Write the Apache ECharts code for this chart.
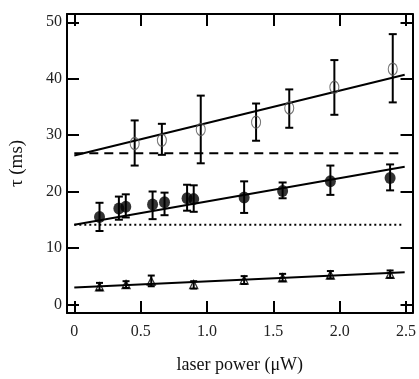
<!DOCTYPE html>
<html>
<head>
<meta charset="utf-8">
<script src="https://cdn.jsdelivr.net/npm/echarts@6/dist/echarts.min.js"></script>
<style>html,body{margin:0;padding:0;background:#fff}#c{width:419px;height:379px}</style>
</head>
<body>
<div id="c"></div>
<script>
// ---- data ----
const xTicks = [0, 0.5, 1.0, 1.5, 2.0, 2.5];
const yTicks = [0, 10, 20, 30, 40, 50];

const openX = [0.455, 0.66, 0.953, 1.37, 1.62, 1.96, 2.40];
const openY = [28.5, 29.1, 31.0, 32.3, 34.8, 38.5, 41.7];
const openLo = [24.6, 26.5, 25.0, 29.0, 31.3, 33.6, 35.8];
const openHi = [32.6, 32.0, 37.0, 35.6, 38.1, 43.3, 47.9];

const filledX = [0.19, 0.336, 0.388, 0.59, 0.68, 0.85, 0.90, 1.28, 1.57, 1.93, 2.38];
const filledY = [15.5, 17.0, 17.3, 17.7, 18.1, 18.8, 18.65, 18.95, 20.1, 21.8, 22.4];
const filledLo = [13.0, 15.0, 15.4, 15.1, 15.8, 16.6, 16.4, 16.2, 18.8, 19.4, 20.2];
const filledHi = [18.0, 19.1, 19.5, 20.0, 19.8, 21.2, 21.1, 21.8, 21.6, 24.6, 24.8];

const triX = [0.19, 0.39, 0.58, 0.90, 1.28, 1.57, 1.93, 2.38];
const triY = [3.1, 3.5, 4.1, 3.5, 4.3, 4.7, 5.2, 5.3];
const triLo = [2.5, 2.9, 3.2, 2.8, 3.6, 4.1, 4.6, 4.7];
const triHi = [3.8, 4.1, 5.1, 4.1, 5.0, 5.4, 5.9, 6.0];

const fitOpenX = [0, 2.49], fitOpenY = [26.4, 40.7];
const fitFilledX = [0, 2.49], fitFilledY = [14.1, 24.4];
const fitTriX = [0, 2.49], fitTriY = [3.0, 5.7];
const dashedX = [0, 2.48], dashedY = [26.8, 26.8];
const dottedX = [0, 2.48], dottedY = [14.1, 14.1];

// ---- build ----
const zip = (a, b) => a.map((v, i) => [v, b[i]]);
const zip3 = (a, b, c) => a.map((v, i) => [v, b[i], c[i]]);
const FONT = 'Liberation Serif';

function errRender(capW) {
  return function (params, api) {
    const x = api.value(0), lo = api.value(1), hi = api.value(2);
    const p1 = api.coord([x, lo]), p2 = api.coord([x, hi]);
    const st = { stroke: '#000', lineWidth: 2 };
    return {
      type: 'group',
      children: [
        { type: 'line', shape: { x1: p1[0], y1: p1[1], x2: p2[0], y2: p2[1] }, style: st },
        { type: 'line', shape: { x1: p1[0] - capW, y1: p1[1], x2: p1[0] + capW, y2: p1[1] }, style: st },
        { type: 'line', shape: { x1: p2[0] - capW, y1: p2[1], x2: p2[0] + capW, y2: p2[1] }, style: st }
      ]
    };
  };
}

const XMIN = -0.055, XMAX = 2.549, YMIN = -1.54, YMAX = 51.47;
const axisLineStyle = { color: '#000', width: 2 };

const option = {
  animation: false,
  grid: { left: 66, right: 3, top: 14, bottom: 66, containLabel: false },
  xAxis: [
    {
      type: 'value', min: XMIN, max: XMAX, position: 'bottom',
      axisLine: { show: true, onZero: false, lineStyle: axisLineStyle },
      axisTick: { show: true, inside: true, length: 12, lineStyle: axisLineStyle, customValues: xTicks },
      axisLabel: { show: true, margin: 11, fontFamily: FONT, fontSize: 16, color: '#222',
        customValues: xTicks, formatter: v => (v === 0 ? '0' : v.toFixed(1)) },
      splitLine: { show: false },
      name: 'laser power (\u03bcW)', nameLocation: 'middle', nameGap: 43,
      nameTextStyle: { fontFamily: FONT, fontSize: 18, color: '#111' }
    },
    {
      type: 'value', min: XMIN, max: XMAX, position: 'top',
      axisLine: { show: true, onZero: false, lineStyle: axisLineStyle },
      axisTick: { show: true, inside: true, length: 12, lineStyle: axisLineStyle, customValues: xTicks },
      axisLabel: { show: false },
      splitLine: { show: false }
    }
  ],
  yAxis: [
    {
      type: 'value', min: YMIN, max: YMAX, position: 'left',
      axisLine: { show: true, onZero: false, lineStyle: axisLineStyle },
      axisTick: { show: true, inside: true, length: 12, lineStyle: axisLineStyle, customValues: yTicks },
      axisLabel: { show: true, margin: 5, fontFamily: FONT, fontSize: 16, color: '#222', customValues: yTicks },
      splitLine: { show: false },
      name: '\u03c4 (ms)', nameLocation: 'middle', nameGap: 40, nameRotate: 90,
      nameTextStyle: { fontFamily: FONT, fontSize: 19, color: '#111' }
    },
    {
      type: 'value', min: YMIN, max: YMAX, position: 'right',
      axisLine: { show: true, onZero: false, lineStyle: axisLineStyle },
      axisTick: { show: true, inside: true, length: 12, lineStyle: axisLineStyle, customValues: yTicks },
      axisLabel: { show: false },
      splitLine: { show: false }
    }
  ],
  series: [
    { type: 'line', data: zip(dashedX, dashedY), symbol: 'none', lineStyle: { color: '#000', width: 2, type: [9, 6] }, z: 2 },
    { type: 'line', data: zip(dottedX, dottedY), symbol: 'none', lineStyle: { color: '#000', width: 2, type: [2, 3] }, z: 2 },
    { type: 'line', data: zip(fitOpenX, fitOpenY), symbol: 'none', lineStyle: { color: '#000', width: 2 }, z: 2 },
    { type: 'line', data: zip(fitFilledX, fitFilledY), symbol: 'none', lineStyle: { color: '#000', width: 2 }, z: 2 },
    { type: 'line', data: zip(fitTriX, fitTriY), symbol: 'none', lineStyle: { color: '#000', width: 2 }, z: 2 },
    { type: 'custom', renderItem: errRender(4), data: zip3(openX, openLo, openHi), z: 3 },
    { type: 'custom', renderItem: errRender(4), data: zip3(filledX, filledLo, filledHi), z: 3 },
    { type: 'custom', renderItem: errRender(3.5), data: zip3(triX, triLo, triHi), z: 3 },
    { type: 'scatter', data: zip(openX, openY), symbol: 'circle', symbolSize: [9, 12],
      itemStyle: { color: 'rgba(0,0,0,0)', borderColor: '#555', borderWidth: 1.2 }, z: 4 },
    { type: 'scatter', data: zip(filledX, filledY), symbol: 'circle', symbolSize: [11, 12],
      itemStyle: { color: '#000' }, z: 4 },
    { type: 'scatter', data: zip(triX, triY), symbol: 'triangle', symbolSize: [8, 8],
      itemStyle: { color: 'rgba(0,0,0,0)', borderColor: '#000', borderWidth: 1.3 }, z: 4 }
  ]
};

const chart = echarts.init(document.getElementById('c'), null, { renderer: 'canvas' });
chart.setOption(option);
</script>
</body>
</html>
